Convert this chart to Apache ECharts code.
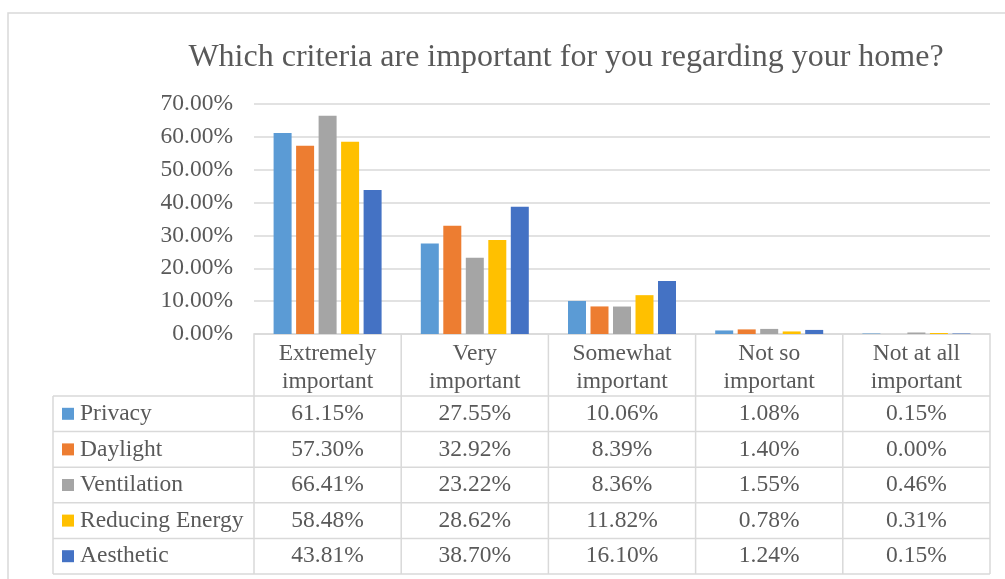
<!DOCTYPE html>
<html>
<head>
<meta charset="utf-8">
<script src="https://cdn.jsdelivr.net/npm/echarts@6/dist/echarts.min.js"></script>
<style>
  html, body { margin: 0; padding: 0; background: #fff; }
  #chart { width: 1005px; height: 579px; }
</style>
</head>
<body>
<div id="chart"></div>
<script>
// categories (header row of the data table)
const categories = ['Extremely\nimportant', 'Very\nimportant', 'Somewhat\nimportant', 'Not so\nimportant', 'Not at all\nimportant'];
const seriesNames = ['Privacy', 'Daylight', 'Ventilation', 'Reducing Energy', 'Aesthetic'];
const colors = ['#5B9BD5', '#ED7D31', '#A5A5A5', '#FFC000', '#4472C4'];

// values in percent
const privacy = [61.15, 27.55, 10.06, 1.08, 0.15];
const daylight = [57.30, 32.92, 8.39, 1.40, 0.00];
const ventilation = [66.41, 23.22, 8.36, 1.55, 0.46];
const reducingEnergy = [58.48, 28.62, 11.82, 0.78, 0.31];
const aesthetic = [43.81, 38.70, 16.10, 1.24, 0.15];
const seriesValues = [privacy, daylight, ventilation, reducingEnergy, aesthetic];

const FONT = '"Liberation Serif", "Times New Roman", serif';
const TEXT = '#595959';
const LINE = '#d9d9d9';
const FS = 23.5;

// layout
const gridLeft = 254, gridRight = 990, gridTop = 104, gridBottom = 334;
const headerBottom = 396;
const rowH = 35.6;
const tableLeft = 53;

const chart = echarts.init(document.getElementById('chart'));

const series = seriesNames.map(function (name, i) {
  return {
    name: name,
    type: 'bar',
    data: seriesValues[i],
    barWidth: 18,
    barGap: '25%',
    itemStyle: { color: colors[i] }
  };
});

function buildTable() {
  const g = [];
  const colW = (gridRight - gridLeft) / categories.length;
  const tableBottom = headerBottom + rowH * seriesNames.length;
  // outer chart border
  g.push({ type: 'rect', shape: { x: 8, y: 13, width: 1100, height: 700 },
    style: { fill: null, stroke: LINE, lineWidth: 1.5 }, silent: true });
  // header box
  g.push({ type: 'polyline', shape: { points: [[gridLeft, headerBottom], [gridLeft, gridBottom], [gridRight, gridBottom], [gridRight, tableBottom]] },
    style: { stroke: LINE, lineWidth: 1.5, fill: null } });
  // vertical column lines
  for (let c = 1; c < categories.length; c++) {
    const x = gridLeft + c * colW;
    g.push({ type: 'line', shape: { x1: x, y1: gridBottom, x2: x, y2: tableBottom }, style: { stroke: LINE, lineWidth: 1.5 } });
  }
  g.push({ type: 'line', shape: { x1: tableLeft, y1: headerBottom, x2: tableLeft, y2: tableBottom }, style: { stroke: LINE, lineWidth: 1.5 } });
  g.push({ type: 'line', shape: { x1: gridLeft, y1: headerBottom, x2: gridLeft, y2: tableBottom }, style: { stroke: LINE, lineWidth: 1.5 } });
  // horizontal row lines
  for (let r = 0; r <= seriesNames.length; r++) {
    const y = headerBottom + r * rowH;
    g.push({ type: 'line', shape: { x1: tableLeft, y1: y, x2: gridRight, y2: y }, style: { stroke: LINE, lineWidth: 1.5 } });
  }
  // row contents
  seriesNames.forEach(function (name, r) {
    const cy = headerBottom + r * rowH + rowH / 2;
    g.push({ type: 'rect', shape: { x: 62, y: cy - 6, width: 12, height: 12 }, style: { fill: colors[r] } });
    g.push({ type: 'text', style: { text: name, x: 80, y: cy, font: FS + 'px ' + FONT, fill: TEXT, verticalAlign: 'middle', align: 'left' } });
    seriesValues[r].forEach(function (v, c) {
      g.push({ type: 'text', style: { text: v.toFixed(2) + '%', x: gridLeft + colW * (c + 0.5), y: cy,
        font: FS + 'px ' + FONT, fill: TEXT, verticalAlign: 'middle', align: 'center' } });
    });
  });
  return g;
}

chart.setOption({
  backgroundColor: '#fff',
  animation: false,
  color: colors,
  title: {
    text: 'Which criteria are important for you regarding your home?',
    left: 561,
    top: 37,
    textAlign: 'center',
    textStyle: { fontFamily: FONT, fontSize: 32, fontWeight: 'normal', color: TEXT }
  },
  grid: { left: gridLeft, top: gridTop, width: gridRight - gridLeft, height: gridBottom - gridTop, containLabel: false },
  xAxis: {
    type: 'category',
    data: categories,
    axisLine: { show: false },
    axisTick: { show: false },
    axisLabel: {
      interval: 0,
      margin: 6,
      fontFamily: FONT,
      fontSize: FS,
      lineHeight: 28,
      color: TEXT,
      align: 'center'
    }
  },
  yAxis: {
    type: 'value',
    min: 0,
    max: 70,
    interval: 10,
    axisLine: { show: false },
    axisTick: { show: false },
    splitLine: { lineStyle: { color: LINE, width: 1.5 } },
    axisLabel: {
      margin: 21,
      fontFamily: FONT,
      fontSize: FS,
      color: TEXT,
      formatter: function (v) { return v.toFixed(2) + '%'; }
    }
  },
  series: series,
  graphic: buildTable()
});
</script>
</body>
</html>
